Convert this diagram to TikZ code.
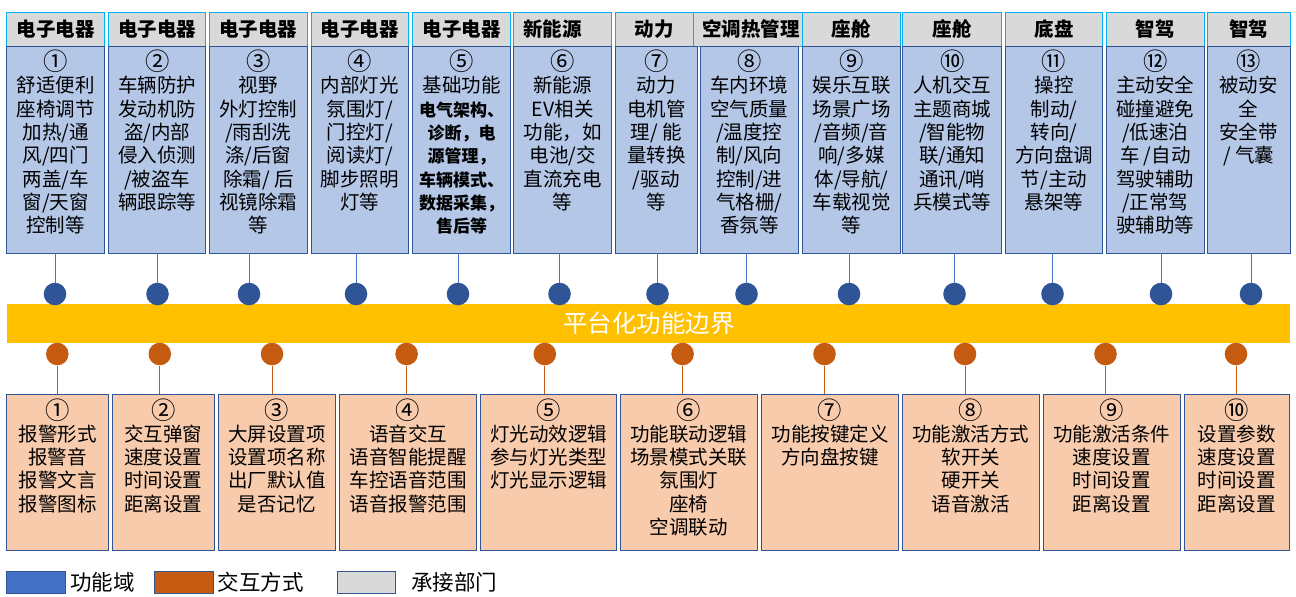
\documentclass[tikz,border=0pt]{standalone}
\usepackage{fontspec}
\setmainfont{Noto Sans CJK SC}
\definecolor{hdrgray}{HTML}{D9D9D9}
\definecolor{hdrline}{HTML}{00B0F0}
\definecolor{darkblue}{HTML}{2F5597}
\definecolor{midblue}{HTML}{4472C4}
\definecolor{bodyblue}{HTML}{B4C7E7}
\definecolor{rust}{HTML}{C55A11}
\definecolor{peach}{HTML}{F8CBAD}
\definecolor{barcol}{HTML}{FFC000}
\tikzset{
  hdrbox/.style={draw=hdrline, fill=hdrgray, line width=0.9pt, inner sep=0pt, outer sep=0pt, anchor=north west, rectangle},
  bodybox/.style={draw=darkblue, fill=bodyblue, line width=0.9pt, inner sep=0pt, outer sep=0pt, anchor=north west, rectangle},
  botbox/.style={draw=darkblue, fill=peach, line width=0.9pt, inner sep=0pt, outer sep=0pt, anchor=north west, rectangle},
  barbox/.style={fill=barcol, inner sep=0pt, outer sep=0pt, anchor=north west, rectangle},
  legblue/.style={draw=darkblue, fill=midblue, line width=0.9pt, inner sep=0pt, outer sep=0pt, anchor=north west, rectangle},
  legrust/.style={draw=darkblue, fill=rust, line width=0.9pt, inner sep=0pt, outer sep=0pt, anchor=north west, rectangle},
  leggray/.style={draw=darkblue, fill=hdrgray, line width=0.9pt, inner sep=0pt, outer sep=0pt, anchor=north west, rectangle},
  hdrtext/.style={font=\fontsize{19.5}{23.3}\selectfont\bfseries, inner sep=0pt},
  bodytext/.style={font=\fontsize{19.5}{23.3}\selectfont, align=center, inner sep=0pt, anchor=north},
  legtext/.style={font=\fontsize{21.5}{24}\selectfont, inner sep=0pt, anchor=west},
  bartext/.style={font=\fontsize{24.5}{26}\selectfont, text=white, inner sep=0pt},
  bluedot/.style={circle, fill=darkblue, minimum size=22.6pt, inner sep=0pt},
  rustdot/.style={circle, fill=rust, minimum size=22.6pt, inner sep=0pt},
  bluelink/.style={draw=midblue, line width=0.9pt},
  rustlink/.style={draw=rust, line width=0.9pt},
}
\newcommand\rbox[6]{\node[#6, minimum width={(#4-#2)*1pt}, minimum height={(#5-#3)*1pt}] (#1) at (#2,#3) {};}
\newcommand\cn[1]{\vphantom{#1}\smash{\raisebox{-1.3pt}{\scalebox{1.25}{#1}}}}
\newcommand\bl[1]{{\fontsize{17}{23.3}\selectfont\bfseries #1}}
\begin{document}
\begin{tikzpicture}[x=1pt,y=-1pt]
\useasboundingbox (0,0) rectangle (1296,597);
% ---------- top headers ----------
\rbox{h1}{6.7}{12.7}{104.7}{46}{hdrbox}
\rbox{h2}{108.7}{12.7}{205.7}{46}{hdrbox}
\rbox{h3}{209.3}{12.7}{307.3}{46}{hdrbox}
\rbox{h4}{311.3}{12.7}{408.3}{46}{hdrbox}
\rbox{h5}{412.3}{12.7}{510.7}{46}{hdrbox}
\rbox{h6}{513.7}{12.7}{611.7}{46}{hdrbox}
\rbox{h7}{615.3}{12.7}{693.3}{46}{hdrbox}
\rbox{h8}{693.3}{12.7}{802.3}{46}{hdrbox}
\rbox{h9}{802.3}{12.7}{900.3}{46}{hdrbox}
\rbox{h10}{902.7}{12.7}{1001.7}{46}{hdrbox}
\rbox{h11}{1005.3}{12.7}{1102.7}{46}{hdrbox}
\rbox{h12}{1106}{12.7}{1204.7}{46}{hdrbox}
\rbox{h13}{1207.3}{12.7}{1290}{46}{hdrbox}
\node[hdrtext] (ht1) at (h1.center) {电子电器};
\node[hdrtext] (ht2) at (h2.center) {电子电器};
\node[hdrtext] (ht3) at (h3.center) {电子电器};
\node[hdrtext] (ht4) at (h4.center) {电子电器};
\node[hdrtext] (ht5) at (h5.center) {电子电器};
\node[hdrtext] (ht6) at ([xshift=-10pt]h6.center) {新能源};
\node[hdrtext] (ht7) at (h7.center) {动力};
\node[hdrtext] (ht8) at ([xshift=3pt]h8.center) {空调热管理};
\node[hdrtext] (ht9) at (h9.center) {座舱};
\node[hdrtext] (ht10) at (h10.center) {座舱};
\node[hdrtext] (ht11) at (h11.center) {底盘};
\node[hdrtext] (ht12) at (h12.center) {智驾};
\node[hdrtext] (ht13) at (h13.center) {智驾};
% ---------- top bodies ----------
\rbox{b1}{6.7}{46}{104.7}{253.3}{bodybox}
\rbox{b2}{108.7}{46}{205.7}{253.3}{bodybox}
\rbox{b3}{209.3}{46}{307.3}{253.3}{bodybox}
\rbox{b4}{311.3}{46}{408.3}{253.3}{bodybox}
\rbox{b5}{412.3}{46}{510.7}{253.3}{bodybox}
\rbox{b6}{513.7}{46}{611.7}{253.3}{bodybox}
\rbox{b7}{615.3}{46}{697.3}{253.3}{bodybox}
\rbox{b8}{700}{46}{798.7}{253.3}{bodybox}
\rbox{b9}{802.3}{46}{900.7}{253.3}{bodybox}
\rbox{b10}{902.7}{46}{1001.7}{253.3}{bodybox}
\rbox{b11}{1005.3}{46}{1102.7}{253.3}{bodybox}
\rbox{b12}{1106}{46}{1204.7}{253.3}{bodybox}
\rbox{b13}{1207.3}{46}{1290}{253.3}{bodybox}
\node[bodytext] (bt1) at ([yshift=-7pt]b1.north) {\cn{①}\\舒适便利\\座椅调节\\加热/通\\风/四门\\两盖/车\\窗/天窗\\控制等};
\node[bodytext] (bt2) at ([yshift=-7pt]b2.north) {\cn{②}\\车辆防护\\发动机防\\盗/内部\\侵入侦测\\/被盗车\\辆跟踪等};
\node[bodytext] (bt3) at ([yshift=-7pt]b3.north) {\cn{③}\\视野\\外灯控制\\/雨刮洗\\涤/后窗\\除霜/ 后\\视镜除霜\\等};
\node[bodytext] (bt4) at ([yshift=-7pt]b4.north) {\cn{④}\\内部灯光\\氛围灯/\\门控灯/\\阅读灯/\\脚步照明\\灯等};
\node[bodytext] (bt5) at ([yshift=-7pt]b5.north) {\cn{⑤}\\基础功能\\\bl{电气架构、}\\\bl{诊断，电}\\\bl{源管理，}\\\bl{车辆模式、}\\\bl{数据采集，}\\\bl{售后等}};
\node[bodytext] (bt6) at ([yshift=-7pt]b6.north) {\cn{⑥}\\新能源\\EV相关\\功能，如\\电池/交\\直流充电\\等};
\node[bodytext] (bt7) at ([yshift=-7pt]b7.north) {\cn{⑦}\\动力\\电机管\\理/ 能\\量转换\\/驱动\\等};
\node[bodytext] (bt8) at ([yshift=-7pt]b8.north) {\cn{⑧}\\车内环境\\空气质量\\/温度控\\制/风向\\控制/进\\气格栅/\\香氛等};
\node[bodytext] (bt9) at ([yshift=-7pt]b9.north) {\cn{⑨}\\娱乐互联\\场景广场\\/音频/音\\响/多媒\\体/导航/\\车载视觉\\等};
\node[bodytext] (bt10) at ([yshift=-7pt]b10.north) {\cn{⑩}\\人机交互\\主题商城\\/智能物\\联/通知\\通讯/哨\\兵模式等};
\node[bodytext] (bt11) at ([yshift=-7pt]b11.north) {\cn{⑪}\\操控\\制动/\\转向/\\方向盘调\\节/主动\\悬架等};
\node[bodytext] (bt12) at ([yshift=-7pt]b12.north) {\cn{⑫}\\主动安全\\碰撞避免\\/低速泊\\车 /自动\\驾驶辅助\\/正常驾\\驶辅助等};
\node[bodytext] (bt13) at ([yshift=-7pt]b13.north) {\cn{⑬}\\被动安\\全\\安全带\\/ 气囊};
% ---------- bar ----------
\rbox{bar}{7}{304}{1290}{342.7}{barbox}
\node[bartext] (bartxt) at (649,323.5) {平台化功能边界};
% ---------- blue dots ----------
\node[bluedot] (d1) at (55,294) {};
\node[bluedot] (d2) at (157.5,294) {};
\node[bluedot] (d3) at (249,294) {};
\node[bluedot] (d4) at (356,294) {};
\node[bluedot] (d5) at (458,294) {};
\node[bluedot] (d6) at (559.5,294) {};
\node[bluedot] (d7) at (657.5,294) {};
\node[bluedot] (d8) at (746.5,294) {};
\node[bluedot] (d9) at (849,294) {};
\node[bluedot] (d10) at (954.5,294) {};
\node[bluedot] (d11) at (1052.5,294) {};
\node[bluedot] (d12) at (1161,294) {};
\node[bluedot] (d13) at (1251,294) {};
\foreach \i in {1,...,13}{\draw[bluelink] (d\i |- b\i.south) -- (d\i.north);}
% ---------- bottom boxes ----------
\rbox{c1}{6.7}{394.3}{108.7}{550.3}{botbox}
\rbox{c2}{112.3}{394.3}{214.3}{550.3}{botbox}
\rbox{c3}{218.3}{394.3}{335.3}{550.3}{botbox}
\rbox{c4}{339.3}{394.3}{476.7}{550.3}{botbox}
\rbox{c5}{480.3}{394.3}{616.7}{550.3}{botbox}
\rbox{c6}{620.3}{394.3}{757.3}{550.3}{botbox}
\rbox{c7}{761.7}{394.3}{898.3}{550.3}{botbox}
\rbox{c8}{902.3}{394.3}{1039.3}{550.3}{botbox}
\rbox{c9}{1043.3}{394.3}{1180.3}{550.3}{botbox}
\rbox{c10}{1184.3}{394.3}{1289.3}{550.3}{botbox}
\node[bodytext] (ct1) at ([yshift=-7pt]c1.north) {\cn{①}\\报警形式\\报警音\\报警文言\\报警图标};
\node[bodytext] (ct2) at ([yshift=-7pt]c2.north) {\cn{②}\\交互弹窗\\速度设置\\时间设置\\距离设置};
\node[bodytext] (ct3) at ([yshift=-7pt]c3.north) {\cn{③}\\大屏设置项\\设置项名称\\出厂默认值\\是否记忆};
\node[bodytext] (ct4) at ([yshift=-7pt]c4.north) {\cn{④}\\语音交互\\语音智能提醒\\车控语音范围\\语音报警范围};
\node[bodytext] (ct5) at ([yshift=-7pt]c5.north) {\cn{⑤}\\灯光动效逻辑\\参与灯光类型\\灯光显示逻辑};
\node[bodytext] (ct6) at ([yshift=-7pt]c6.north) {\cn{⑥}\\功能联动逻辑\\场景模式关联\\氛围灯\\座椅\\空调联动};
\node[bodytext] (ct7) at ([yshift=-7pt]c7.north) {\cn{⑦}\\功能按键定义\\方向盘按键};
\node[bodytext] (ct8) at ([yshift=-7pt]c8.north) {\cn{⑧}\\功能激活方式\\软开关\\硬开关\\语音激活};
\node[bodytext] (ct9) at ([yshift=-7pt]c9.north) {\cn{⑨}\\功能激活条件\\速度设置\\时间设置\\距离设置};
\node[bodytext] (ct10) at ([yshift=-7pt]c10.north) {\cn{⑩}\\设置参数\\速度设置\\时间设置\\距离设置};
% ---------- rust dots ----------
\node[rustdot] (o1) at (57.3,354) {};
\node[rustdot] (o2) at (159.8,354) {};
\node[rustdot] (o3) at (272,354) {};
\node[rustdot] (o4) at (406.6,354) {};
\node[rustdot] (o5) at (544.8,354) {};
\node[rustdot] (o6) at (682.6,354) {};
\node[rustdot] (o7) at (824.5,354) {};
\node[rustdot] (o8) at (965,354) {};
\node[rustdot] (o9) at (1105.5,354) {};
\node[rustdot] (o10) at (1236,354) {};
\foreach \i in {1,...,10}{\draw[rustlink] (o\i.south) -- (o\i |- c\i.north);}
% ---------- legend ----------
\rbox{l1}{6.7}{571.7}{65.3}{593.3}{legblue}
\rbox{l2}{154.3}{571.7}{213.3}{593.3}{legrust}
\rbox{l3}{337.3}{571.7}{395.7}{593.3}{leggray}
\node[legtext] (lt1) at (70,582.5) {功能域};
\node[legtext] (lt2) at (217.5,582.5) {交互方式};
\node[legtext] (lt3) at (411,582.5) {承接部门};
\end{tikzpicture}
\end{document}
